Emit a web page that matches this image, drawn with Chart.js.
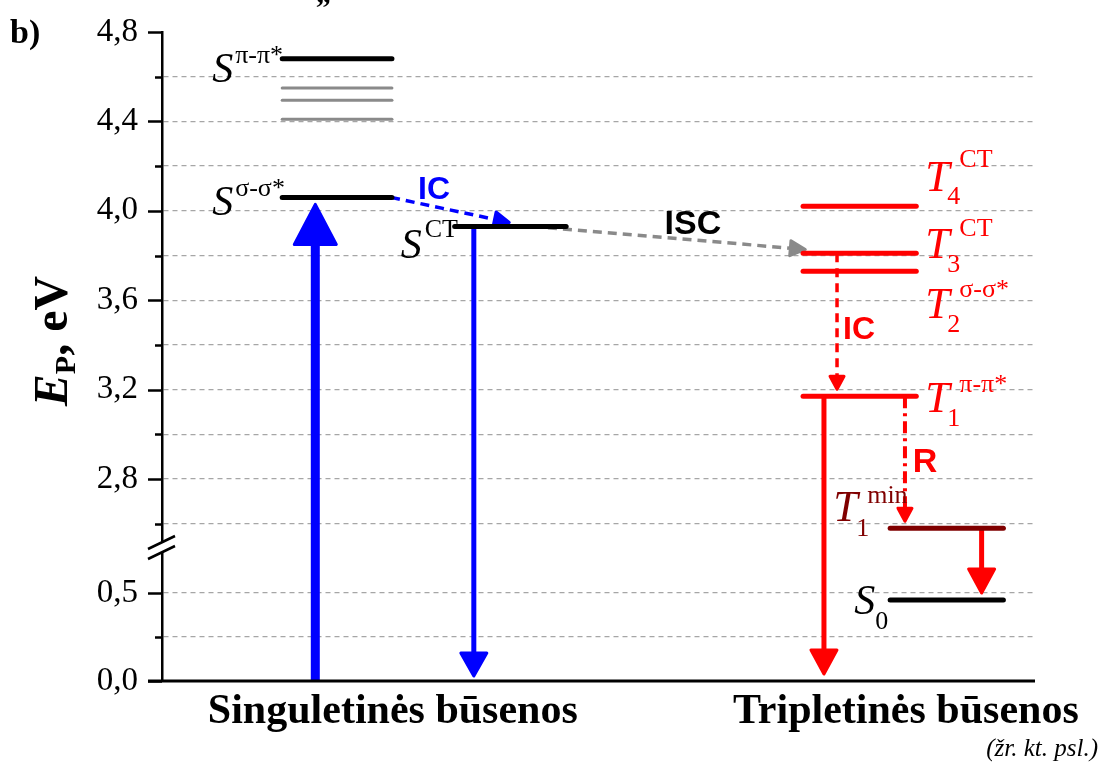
<!DOCTYPE html>
<html>
<head>
<meta charset="utf-8">
<script src="https://cdn.jsdelivr.net/npm/chart.js@4.4.0/dist/chart.umd.min.js"></script>
<style>
  html, body { margin: 0; padding: 0; background: #fff; }
  #wrap { width: 1101px; height: 763px; }
</style>
</head>
<body>
<div id="wrap"><canvas id="chart" width="1101" height="763"></canvas></div>
<script>
// energies (eV)
const yMajorTicks = [0, 0.5, 2.8, 3.2, 3.6, 4.0, 4.4, 4.8];
const yTickLabels = ['0,0', '0,5', '2,8', '3,2', '3,6', '4,0', '4,4', '4,8'];
const yMinorTicks = [0.25, 2.6, 3.0, 3.4, 3.8, 4.2, 4.6];

const categories = ['Singuletinės būsenos', 'Tripletinės būsenos'];

const singletStates = ['π-π*', 'σ-σ*'];
const singletEnergies = [4.68, 4.06];
const singletCTEnergy = 3.93;
const higherSingletEnergies = [4.55, 4.495, 4.41];

const tripletIndex = ['4', '3', '2', '1'];
const tripletStates = ['CT', 'CT', 'σ-σ*', 'π-π*'];
const tripletEnergies = [4.02, 3.81, 3.73, 3.17];
const t1minEnergy = 2.58;
const groundEnergy = 0.46;

// broken axis: 0..0.75 below the break, 2.6..4.8 above it
const breakHigh = 2.6;
function toAxis(v) {
  return v < 1.5 ? v * 176 : 157.3 + (v - breakHigh) * 223.5;
}

// horizontal extent of level columns (hidden x axis 0..100)
const cols = {
  singlet: [13.8, 26.4],
  singletCT: [33.6, 46.4],
  triplet: [73.6, 86.6],
  relaxed: [83.6, 96.6]
};
const categoryCenters = [26.5, 85.4];

const BLUE = '#0000ff', RED = '#ff0000', DARKRED = '#800000', GRAY = '#8a8a8a';
const SERIF = '"Liberation Serif", "Times New Roman", serif';
const SANS = '"Liberation Sans", Arial, sans-serif';

function level(span, e, color, width) {
  return {
    data: [{ x: span[0], y: toAxis(e) }, { x: span[1], y: toAxis(e) }],
    borderColor: color, borderWidth: width, borderCapStyle: 'round',
    showLine: true, pointRadius: 0, pointHoverRadius: 0, fill: false, tension: 0
  };
}

const datasets = [];
singletEnergies.forEach(e => datasets.push(level(cols.singlet, e, '#000', 5)));
higherSingletEnergies.forEach(e => datasets.push(level(cols.singlet, e, GRAY, 3)));
datasets.push(level(cols.singletCT, singletCTEnergy, '#000', 5));
tripletEnergies.forEach(e => datasets.push(level(cols.triplet, e, RED, 5)));
datasets.push(level(cols.relaxed, t1minEnergy, DARKRED, 5));
datasets.push(level(cols.relaxed, groundEnergy, '#000', 5));

// transitions
const arrows = [
  { x1: 17.6, e1: 0, x2: 17.6, e2: singletEnergies[1], color: BLUE, width: 9, head: [42, 42], gap: 5 },
  { x1: 26.3, e1: singletEnergies[1], x2: 40.2, e2: 3.945, color: BLUE, width: 3.5, dash: [9, 6], head: [17, 15], gap: 1 },
  { x1: 35.8, e1: singletCTEnergy, x2: 35.8, e2: 0, color: BLUE, width: 5, head: [25, 26], gap: 3 },
  { x1: 42.6, e1: singletCTEnergy, x2: 74.2, e2: 3.826, color: GRAY, width: 3.5, dash: [9, 6], head: [17, 15], gap: 1 },
  { x1: 77.5, e1: tripletEnergies[1], x2: 77.5, e2: tripletEnergies[3], color: RED, width: 3.5, dash: [9, 6], head: [15, 14], gap: 5 },
  { x1: 76.0, e1: tripletEnergies[3], x2: 76.0, e2: 0, color: RED, width: 5, head: [26, 26], gap: 5 },
  { x1: 85.3, e1: tripletEnergies[3], x2: 85.3, e2: t1minEnergy, color: RED, width: 4, dash: [12, 5, 3, 5], head: [15, 14], gap: 5 },
  { x1: 94.1, e1: t1minEnergy, x2: 94.1, e2: groundEnergy, color: RED, width: 5, head: [26, 26], gap: 5 }
];

// process labels (positions in axis units)
const notes = [
  { text: 'IC', x: 29.4, e: 4.053, color: BLUE, size: 32 },
  { text: 'ISC', x: 57.7, e: 3.896, color: '#000', size: 34 },
  { text: 'IC', x: 78.2, e: 3.426, color: RED, size: 32 },
  { text: 'R', x: 86.2, e: 2.831, color: RED, size: 34 }
];

function rich(ctx, x, y, parts) {
  parts.forEach(p => {
    ctx.font = p.font;
    ctx.fillStyle = p.color;
    ctx.textAlign = 'left';
    ctx.textBaseline = 'alphabetic';
    ctx.fillText(p.text, x + p.dx, y + p.dy);
  });
}

const diagramPlugin = {
  id: 'diagram',
  beforeDatasetsDraw(chart) {
    const { ctx } = chart;
    const xs = chart.scales.x, ys = chart.scales.y;
    arrows.forEach(a => {
      const x1 = xs.getPixelForValue(a.x1), y1 = ys.getPixelForValue(toAxis(a.e1));
      let x2 = xs.getPixelForValue(a.x2), y2 = ys.getPixelForValue(toAxis(a.e2));
      const dx = x2 - x1, dy = y2 - y1, len = Math.hypot(dx, dy);
      const ux = dx / len, uy = dy / len;
      x2 -= ux * a.gap; y2 -= uy * a.gap;
      const [hl, hw] = a.head;
      const bx = x2 - ux * hl, by = y2 - uy * hl;
      ctx.save();
      ctx.strokeStyle = a.color;
      ctx.lineWidth = a.width;
      ctx.setLineDash(a.dash || []);
      ctx.beginPath();
      ctx.moveTo(x1, y1);
      ctx.lineTo(bx + ux * 2, by + uy * 2);
      ctx.stroke();
      ctx.setLineDash([]);
      ctx.fillStyle = a.color;
      ctx.lineJoin = 'round';
      ctx.lineWidth = 3;
      ctx.beginPath();
      ctx.moveTo(x2 - ux * 2, y2 - uy * 2);
      ctx.lineTo(bx - uy * hw / 2, by + ux * hw / 2);
      ctx.lineTo(bx + uy * hw / 2, by - ux * hw / 2);
      ctx.closePath();
      ctx.fill();
      ctx.stroke();
      ctx.restore();
    });
  },
  afterDraw(chart) {
    const { ctx, chartArea: ca } = chart;
    const xs = chart.scales.x, ys = chart.scales.y;
    const X = u => xs.getPixelForValue(u);
    const Y = e => ys.getPixelForValue(toAxis(e));
    ctx.save();

    // y tick marks
    ctx.strokeStyle = '#000';
    ctx.lineWidth = 2.5;
    yMajorTicks.forEach(v => {
      const y = Math.round(Y(v)) + 0.5;
      ctx.beginPath(); ctx.moveTo(ca.left - 14, y); ctx.lineTo(ca.left, y); ctx.stroke();
    });
    yMinorTicks.forEach(v => {
      const y = Math.round(Y(v)) + 0.5;
      ctx.beginPath(); ctx.moveTo(ca.left - 7, y); ctx.lineTo(ca.left, y); ctx.stroke();
    });
    // bottom axis
    ctx.lineWidth = 3;
    ctx.beginPath(); ctx.moveTo(ca.left - 14, ca.bottom); ctx.lineTo(ca.right + 2, ca.bottom); ctx.stroke();

    // axis break
    const yb = Y(0.75) - 2;
    ctx.fillStyle = '#fff';
    ctx.fillRect(ca.left - 4, yb - 5, 8, 10);
    ctx.lineWidth = 2.5;
    ctx.beginPath();
    ctx.moveTo(ca.left - 14, yb + 2); ctx.lineTo(ca.left + 13, yb - 11);
    ctx.moveTo(ca.left - 14, yb + 12); ctx.lineTo(ca.left + 13, yb - 1);
    ctx.stroke();

    // state labels
    const it = s => 'italic ' + s + 'px ' + SERIF;
    const rg = s => s + 'px ' + SERIF;
    const sx = X(cols.singlet[0]);
    rich(ctx, sx, Y(singletEnergies[0]), [
      { text: 'S', font: it(42), color: '#000', dx: -70, dy: 23 },
      { text: singletStates[0], font: rg(26), color: '#000', dx: -47, dy: 4 }
    ]);
    rich(ctx, sx, Y(singletEnergies[1]), [
      { text: 'S', font: it(42), color: '#000', dx: -70, dy: 18 },
      { text: singletStates[1], font: rg(26), color: '#000', dx: -47, dy: -1 }
    ]);
    rich(ctx, X(cols.singletCT[0]), Y(singletCTEnergy), [
      { text: 'S', font: it(42), color: '#000', dx: -54, dy: 32 },
      { text: 'CT', font: rg(26), color: '#000', dx: -30, dy: 11 }
    ]);
    const tOff = [[-15, -2, -39], [5, 19, -17], [47, 61, 26], [16, 30, -4]];
    const tx = X(cols.triplet[1]);
    tripletEnergies.forEach((e, i) => {
      const o = tOff[i];
      rich(ctx, tx, Y(e), [
        { text: 'T', font: it(44), color: RED, dx: 9, dy: o[0] },
        { text: tripletIndex[i], font: rg(26), color: RED, dx: 31, dy: o[1] },
        { text: tripletStates[i], font: rg(26), color: RED, dx: 43, dy: o[2] }
      ]);
    });
    const rx = X(cols.relaxed[0]);
    rich(ctx, rx, Y(t1minEnergy), [
      { text: 'T', font: it(44), color: DARKRED, dx: -57, dy: -7 },
      { text: '1', font: rg(26), color: DARKRED, dx: -34, dy: 8 },
      { text: 'min', font: rg(26), color: DARKRED, dx: -23, dy: -25 }
    ]);
    rich(ctx, rx, Y(groundEnergy), [
      { text: 'S', font: it(42), color: '#000', dx: -36, dy: 14 },
      { text: '0', font: rg(26), color: '#000', dx: -15, dy: 29 }
    ]);

    // process labels
    notes.forEach(n => {
      ctx.font = 'bold ' + n.size + 'px ' + SANS;
      ctx.fillStyle = n.color;
      ctx.textAlign = 'left';
      ctx.textBaseline = 'alphabetic';
      ctx.fillText(n.text, X(n.x), Y(n.e));
    });

    // category labels
    ctx.fillStyle = '#000';
    ctx.font = 'bold 42px ' + SERIF;
    ctx.textAlign = 'center';
    categories.forEach((c, i) => ctx.fillText(c, X(categoryCenters[i]), ca.bottom + 42));
    ctx.font = 'italic 25px ' + SERIF;
    ctx.textAlign = 'right';
    ctx.fillText('(žr. kt. psl.)', 1098, ca.bottom + 75);

    // panel letter and fragment of the heading above
    ctx.font = 'bold 34px ' + SERIF;
    ctx.textAlign = 'left';
    ctx.fillText('b)', 10, 43);
    ctx.font = 'bold 30px ' + SERIF;
    ctx.fillText('„', 316, 2);

    // y axis title
    ctx.translate(67, 341);
    ctx.rotate(-Math.PI / 2);
    const tparts = [
      { text: 'E', font: 'bold italic 48px ' + SERIF, dy: 0 },
      { text: 'P', font: 'bold 30px ' + SERIF, dy: 8 },
      { text: ', eV', font: 'bold 48px ' + SERIF, dy: 0 }
    ];
    let w = 0;
    tparts.forEach(p => { ctx.font = p.font; w += ctx.measureText(p.text).width; });
    let cx = -w / 2;
    ctx.fillStyle = '#000';
    ctx.textAlign = 'left';
    tparts.forEach(p => {
      ctx.font = p.font;
      ctx.fillText(p.text, cx, p.dy);
      cx += ctx.measureText(p.text).width;
    });
    ctx.restore();
  }
};

const yMax = toAxis(4.8);

new Chart(document.getElementById('chart').getContext('2d'), {
  type: 'scatter',
  data: { datasets },
  options: {
    responsive: false,
    animation: false,
    devicePixelRatio: 1,
    layout: { autoPadding: false, padding: { left: 0, top: 32, right: 68, bottom: 82 } },
    plugins: { legend: { display: false }, tooltip: { enabled: false } },
    scales: {
      x: { type: 'linear', min: 0, max: 100, display: false },
      y: {
        type: 'linear', min: 0, max: yMax,
        afterFit: s => { s.width = 162; s.paddingTop = 0; s.paddingBottom = 0; },
        afterBuildTicks: s => {
          s.ticks = yMajorTicks.concat(yMinorTicks).map(v => ({ value: toAxis(v) }));
        },
        ticks: {
          autoSkip: false, padding: 24, color: '#000',
          font: { family: SERIF, size: 33 },
          callback: (v, i) => (i < yTickLabels.length ? yTickLabels[i] : '')
        },
        grid: {
          drawTicks: false, lineWidth: 1.2,
          color: c => (c.tick && (c.tick.value <= 0.01 || c.tick.value >= yMax - 0.5)) ? 'rgba(0,0,0,0)' : '#a6a6a6'
        },
        border: { display: true, color: '#000', width: 2.5, dash: [5, 4] }
      }
    }
  },
  plugins: [diagramPlugin]
});
</script>
</body>
</html>
